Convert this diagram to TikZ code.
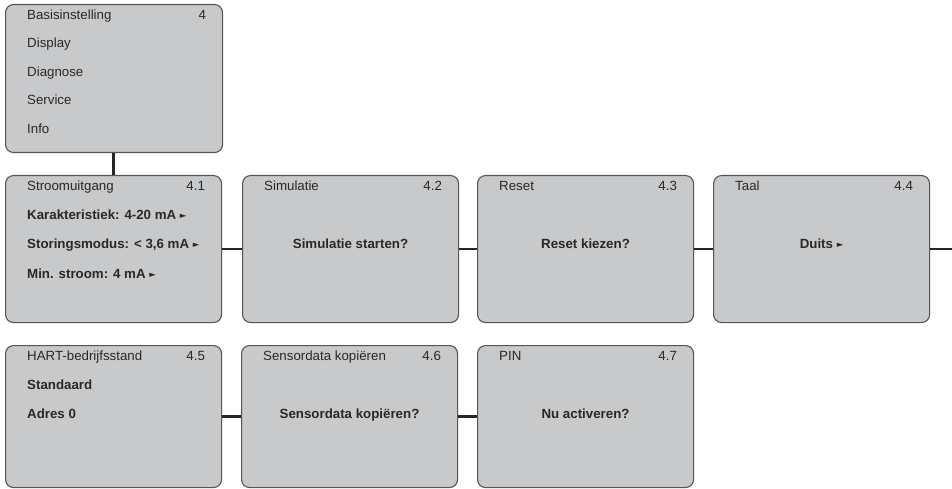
\documentclass[tikz,border=0pt]{standalone}
\usepackage{fontspec}
\setmainfont{Liberation Sans}
\newfontfamily\symfont{DejaVu Sans}
\usepackage{tikz}
\usetikzlibrary{positioning}

\definecolor{boxfill}{RGB}{200,201,203}
\definecolor{boxline}{RGB}{85,85,85}
\definecolor{txtgray}{RGB}{40,40,40}
\newcommand{\selarrow}{\ {\symfont\fontsize{8.5}{8.5}\selectfont\raisebox{0.2pt}{►}}}

\begin{document}
\begin{tikzpicture}[
        x=1pt, y=-1pt,
        menubox/.style={
            draw=boxline,
            fill=boxfill,
            line width=1.1pt,
            rounded corners=8pt,
            anchor=north west,
            minimum width=216pt,
            minimum height=147pt,
            inner sep=0pt
        },
        title/.style={anchor=base west, inner sep=0pt, text=txtgray, font=\fontsize{13.3}{15}\selectfont},
        number/.style={anchor=base east, inner sep=0pt, text=txtgray, font=\fontsize{13.3}{15}\selectfont},
        entry/.style={anchor=base west, inner sep=0pt, text=txtgray, font=\bfseries\fontsize{13.3}{15}\selectfont},
        question/.style={anchor=base, inner sep=0pt, text=txtgray, font=\bfseries\fontsize{13.3}{15}\selectfont},
        link/.style={draw=black!85, line width=2.2pt}
    ]
        \useasboundingbox (0,0) rectangle (952,489);

        % Main menu
        \node[menubox, minimum width=217pt, minimum height=148pt] (b4) at (5,4) {};
        \node[title] (b4t) at ([xshift=22pt,yshift=-16pt]b4.north west) {Basisinstelling};
        \node[number] (b4n) at ([xshift=-17pt,yshift=-16pt]b4.north east) {4};
        \node[title] (b4a) at ([xshift=22pt,yshift=-44pt]b4.north west) {Display};
        \node[title] (b4b) at ([xshift=22pt,yshift=-73pt]b4.north west) {Diagnose};
        \node[title] (b4c) at ([xshift=22pt,yshift=-101pt]b4.north west) {Service};
        \node[title] (b4d) at ([xshift=22pt,yshift=-130pt]b4.north west) {Info};

        % First row
        \node[menubox] (b41) at (5,175) {};
        \node[menubox] (b42) at (242,175) {};
        \node[menubox] (b43) at (477,175) {};
        \node[menubox] (b44) at (713,175) {};

        \node[title] (b41t) at ([xshift=22pt,yshift=-15pt]b41.north west) {Stroomuitgang};
        \node[number] (b41n) at ([xshift=-17pt,yshift=-15pt]b41.north east) {4.1};
        \node[entry] (b41a) at ([xshift=22pt,yshift=-44pt]b41.north west) {Karakteristiek: 4-20 mA\selarrow};
        \node[entry] (b41b) at ([xshift=22pt,yshift=-73pt]b41.north west) {Storingsmodus: < 3,6 mA\selarrow};
        \node[entry] (b41c) at ([xshift=22pt,yshift=-103pt]b41.north west) {Min. stroom: 4 mA\selarrow};

        \node[title] (b42t) at ([xshift=22pt,yshift=-15pt]b42.north west) {Simulatie};
        \node[number] (b42n) at ([xshift=-17pt,yshift=-15pt]b42.north east) {4.2};
        \node[question] (b42q) at ([yshift=-73pt]b42.north) {Simulatie starten?};

        \node[title] (b43t) at ([xshift=22pt,yshift=-15pt]b43.north west) {Reset};
        \node[number] (b43n) at ([xshift=-17pt,yshift=-15pt]b43.north east) {4.3};
        \node[question] (b43q) at ([yshift=-73pt]b43.north) {Reset kiezen?};

        \node[title] (b44t) at ([xshift=22pt,yshift=-15pt]b44.north west) {Taal};
        \node[number] (b44n) at ([xshift=-17pt,yshift=-15pt]b44.north east) {4.4};
        \node[question] (b44q) at ([yshift=-73pt]b44.north) {Duits\selarrow};

        % Second row
        \node[menubox, minimum height=142pt] (b45) at (5,345) {};
        \node[menubox, minimum height=142pt] (b46) at (241,345) {};
        \node[menubox, minimum height=142pt] (b47) at (477,345) {};

        \node[title] (b45t) at ([xshift=22pt,yshift=-15pt]b45.north west) {HART-bedrijfsstand};
        \node[number] (b45n) at ([xshift=-17pt,yshift=-15pt]b45.north east) {4.5};
        \node[entry] (b45a) at ([xshift=22pt,yshift=-44pt]b45.north west) {Standaard};
        \node[entry] (b45b) at ([xshift=22pt,yshift=-73pt]b45.north west) {Adres 0};

        \node[title] (b46t) at ([xshift=22pt,yshift=-15pt]b46.north west) {Sensordata kopiëren};
        \node[number] (b46n) at ([xshift=-17pt,yshift=-15pt]b46.north east) {4.6};
        \node[question] (b46q) at ([yshift=-73pt]b46.north) {Sensordata kopiëren?};

        \node[title] (b47t) at ([xshift=22pt,yshift=-15pt]b47.north west) {PIN};
        \node[number] (b47n) at ([xshift=-17pt,yshift=-15pt]b47.north east) {4.7};
        \node[question] (b47q) at ([yshift=-73pt]b47.north) {Nu activeren?};

        % Connections
        \coordinate (rightend) at (952,248);
        \draw[link] (b41.north |- b4.south) -- (b41.north);
        \draw[link] (b41.east) -- (b42.west);
        \draw[link] (b42.east) -- (b43.west);
        \draw[link] (b43.east) -- (b44.west);
        \draw[link] (b44.east) -- (b44.east -| rightend);
        \draw[link] (b45.east) -- (b46.west);
        \draw[link] (b46.east) -- (b47.west);

    \end{tikzpicture}
\end{document}
